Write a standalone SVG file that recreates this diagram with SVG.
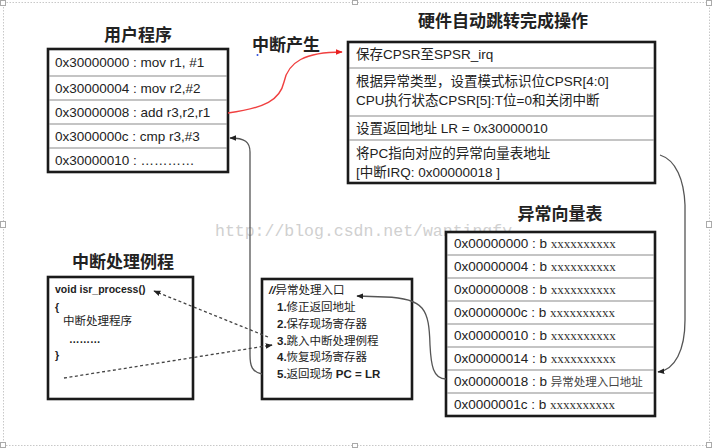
<svg xmlns="http://www.w3.org/2000/svg" width="713" height="448" viewBox="0 0 713 448">
<defs>
<style>
.box{fill:#fff;stroke:#1a1a1a;stroke-width:2.6}
.div{stroke:#8a8a8a;stroke-width:1.2}
.t{font-family:"Liberation Sans","Noto Sans CJK SC",sans-serif;font-size:13.5px;fill:#222}
.ts{font-family:"Liberation Sans","Noto Sans CJK SC",sans-serif;font-size:11.5px;fill:#222}
.tb{font-family:"Liberation Sans","Noto Sans CJK SC",sans-serif;font-size:10.5px;font-weight:bold;fill:#222}
.title{font-family:"Noto Sans CJK SC",sans-serif;font-size:17px;font-weight:bold;fill:#222}
.xx{font-family:"Liberation Serif",serif;font-size:13px;fill:#333}
.cn{font-family:"Noto Sans CJK SC",sans-serif;font-size:11.5px;fill:#444}
.conn{fill:none;stroke:#555;stroke-width:1.3}
.dash{fill:none;stroke:#444;stroke-width:1.3;stroke-dasharray:3 2.5}
.handle{fill:#fff;stroke:#aaa;stroke-width:1}
</style>
<marker id="ah" viewBox="0 0 10 10" refX="9" refY="5" markerWidth="7" markerHeight="7" orient="auto" markerUnits="userSpaceOnUse"><path d="M0,1 L10,5 L0,9 Z" fill="#222"/></marker>
<marker id="ahr" viewBox="0 0 10 10" refX="9" refY="5" markerWidth="7" markerHeight="7" orient="auto" markerUnits="userSpaceOnUse"><path d="M0,1 L10,5 L0,9 Z" fill="#e82020"/></marker>
</defs>
<rect width="713" height="448" fill="#fff"/>
<g id="frame">
<rect x="3.5" y="2.5" width="706" height="443" fill="none" stroke="#c8c8c8" stroke-width="1" stroke-dasharray="1.5 1.5"/>
<rect class="handle" x="0.5" y="0.5" width="5" height="5"/>
<rect class="handle" x="352.5" y="0.5" width="5" height="4"/>
<rect class="handle" x="706.5" y="0.5" width="5" height="5"/>
<rect class="handle" x="0.5" y="221.5" width="5" height="6"/>
<rect class="handle" x="706.5" y="221.5" width="5" height="6"/>
<rect class="handle" x="0.5" y="442.5" width="5" height="5"/>
<rect class="handle" x="352.5" y="443.5" width="5" height="4"/>
<rect class="handle" x="706.5" y="442.5" width="5" height="5"/>
</g>
<text x="215" y="236" font-family="Liberation Mono,monospace" font-size="16.5px" fill="#d0d0d0">http://blog.csdn.net/wantingfy</text>

<g id="irq-label">
<text class="title" x="252" y="51" font-size="15.5px">中断产生</text>
<circle cx="257.5" cy="55" r="1" fill="#3050e0"/>
</g>

<g id="user-program">
<text class="title" x="138" y="41" text-anchor="middle">用户程序</text>
<rect class="box" x="48" y="49" width="180" height="123"/>
<line class="div" x1="49" y1="76" x2="227" y2="76"/>
<line class="div" x1="49" y1="100" x2="227" y2="100"/>
<line class="div" x1="49" y1="124" x2="227" y2="124"/>
<line class="div" x1="49" y1="148" x2="227" y2="148"/>
<text class="t" x="55" y="67">0x30000000 : mov r1, #1</text>
<text class="t" x="55" y="93">0x30000004 : mov r2,#2</text>
<text class="t" x="55" y="117">0x30000008 : add r3,r2,r1</text>
<text class="t" x="55" y="141">0x3000000c : cmp r3,#3</text>
<text class="t" x="55" y="165">0x30000010 : …………</text>
</g>

<g id="hw-ops">
<text class="title" x="503" y="27" text-anchor="middle">硬件自动跳转完成操作</text>
<rect class="box" x="348" y="42" width="307" height="141"/>
<line class="div" x1="349" y1="68" x2="654" y2="68"/>
<line class="div" x1="349" y1="116" x2="654" y2="116"/>
<line class="div" x1="349" y1="140" x2="654" y2="140"/>
<text class="t" x="356" y="59">保存CPSR至SPSR_irq</text>
<text class="t" x="356" y="86">根据异常类型，设置模式标识位CPSR[4:0]</text>
<text class="t" x="356" y="105">CPU执行状态CPSR[5]:T位=0和关闭中断</text>
<text class="t" x="356" y="133">设置返回地址 LR = 0x30000010</text>
<text class="t" x="356" y="158">将PC指向对应的异常向量表地址</text>
<text class="t" x="356" y="177">[中断IRQ: 0x00000018 ]</text>
</g>

<g id="vector-table">
<text class="title" x="560" y="220" text-anchor="middle">异常向量表</text>
<rect class="box" x="446" y="232" width="209" height="184"/>
<line class="div" x1="447" y1="255" x2="654" y2="255"/>
<line class="div" x1="447" y1="278" x2="654" y2="278"/>
<line class="div" x1="447" y1="301" x2="654" y2="301"/>
<line class="div" x1="447" y1="324" x2="654" y2="324"/>
<line class="div" x1="447" y1="347" x2="654" y2="347"/>
<line class="div" x1="447" y1="370" x2="654" y2="370"/>
<line class="div" x1="447" y1="393" x2="654" y2="393"/>
<text class="t" x="454" y="248">0x00000000 : b <tspan class="xx">xxxxxxxxxx</tspan></text>
<text class="t" x="454" y="271">0x00000004 : b <tspan class="xx">xxxxxxxxxx</tspan></text>
<text class="t" x="454" y="294">0x00000008 : b <tspan class="xx">xxxxxxxxxx</tspan></text>
<text class="t" x="454" y="317">0x0000000c : b <tspan class="xx">xxxxxxxxxx</tspan></text>
<text class="t" x="454" y="340">0x00000010 : b <tspan class="xx">xxxxxxxxxx</tspan></text>
<text class="t" x="454" y="363">0x00000014 : b <tspan class="xx">xxxxxxxxxx</tspan></text>
<text class="t" x="454" y="386">0x00000018 : b <tspan class="cn">异常处理入口地址</tspan></text>
<text class="t" x="454" y="409">0x0000001c : b <tspan class="xx">xxxxxxxxxx</tspan></text>
</g>

<g id="isr">
<text class="title" x="123" y="268" text-anchor="middle">中断处理例程</text>
<rect class="box" x="48" y="277" width="145" height="122"/>
<text class="tb" x="55" y="293">void isr_process()</text>
<text class="tb" x="55" y="311">{</text>
<text class="ts" x="63" y="325" fill="#333">中断处理程序</text>
<text class="tb" x="69" y="343" font-weight="normal">………</text>
<text class="tb" x="55" y="359">}</text>
</g>

<g id="exception-entry">
<rect class="box" x="262" y="279" width="150" height="120"/>
<text class="ts" x="269" y="294"><tspan font-weight="bold" font-style="italic">//</tspan>异常处理入口</text>
<text class="ts" x="277" y="311"><tspan font-weight="bold">1.</tspan>修正返回地址</text>
<text class="ts" x="277" y="328"><tspan font-weight="bold">2.</tspan>保存现场寄存器</text>
<text class="ts" x="277" y="345"><tspan font-weight="bold">3.</tspan>跳入中断处理例程</text>
<text class="ts" x="277" y="361"><tspan font-weight="bold">4.</tspan>恢复现场寄存器</text>
<text class="ts" x="277" y="378"><tspan font-weight="bold">5.</tspan>返回现场 <tspan font-weight="bold">PC = LR</tspan></text>
</g>

<g id="connectors">
<path class="conn" d="M660,155 C676,160 684,180 685,205 L685,320 C685,350 675,370 658,372" marker-end="url(#ah)"/>
<path class="conn" d="M446,379 C433,379 431,365 430,345 C429,310 425,298 385,297 L357,296" marker-end="url(#ah)"/>
<path class="conn" d="M262,374 C252,372 250,366 250,355 L250,152 C250,142 245,138 230,138" marker-end="url(#ah)"/>
<path d="M228,113 C265,108 280,100 284,82 C288,62 305,52 342,52" fill="none" stroke="#f04040" stroke-width="1.4" marker-end="url(#ahr)"/>
<path class="dash" d="M268,337 L154,291" marker-end="url(#ah)"/>
<path class="dash" d="M64,378 L272,345" marker-end="url(#ah)"/>
</g>
</svg>
